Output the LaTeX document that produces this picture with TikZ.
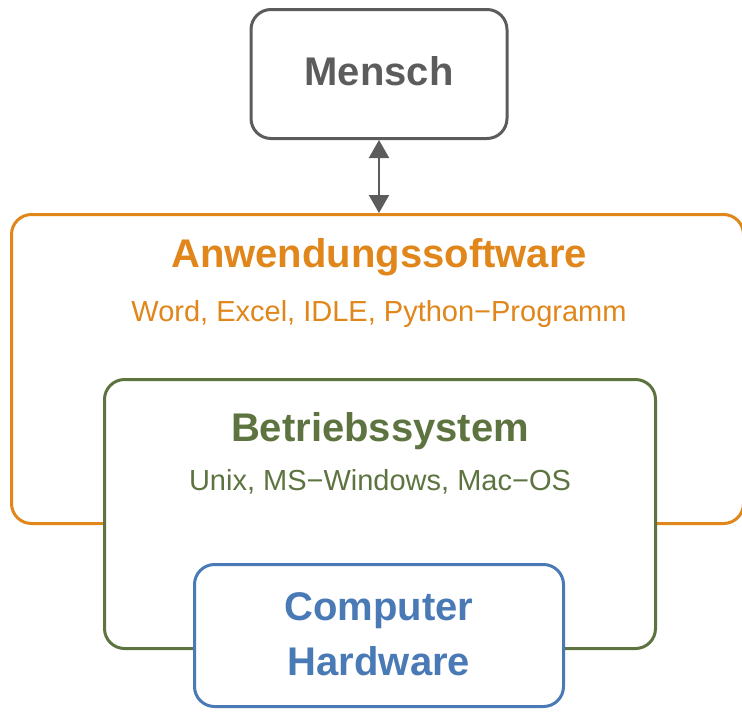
\documentclass[tikz,border=0pt]{standalone}
\usepackage{fontspec}
\setmainfont{Liberation Sans}
\usetikzlibrary{positioning,arrows.meta}
\definecolor{layergray}{HTML}{5C5C5C}
\definecolor{layerorange}{HTML}{E0861A}
\definecolor{layergreen}{HTML}{5E7440}
\definecolor{layerblue}{HTML}{4A7AB6}

\begin{document}
\begin{tikzpicture}[
  x=1pt, y=-1pt,
  layer/.style={draw, fill=white, rounded corners=20pt, line width=3pt},
  title/.style={font=\fontsize{40}{45}\selectfont\bfseries, align=center},
  subtitle/.style={font=\fontsize{29}{34}\selectfont},
  link/.style={{Triangle[width=20pt,length=18pt]}-{Triangle[width=20pt,length=18pt]}, line width=2pt, draw=layergray, fill=layergray}
]
  \useasboundingbox (0,0) rectangle (742,713);
  \node[layer, draw=layerorange, minimum width=732pt, minimum height=309pt] (appbox) at (377.5,369) {};
  \node[layer, draw=layergreen, minimum width=551pt, minimum height=269pt] (osbox) at (380,514) {};
  \node[layer, draw=layerblue, minimum width=369pt, minimum height=142pt] (hwbox) at (379,635.5) {};
  \node[layer, draw=layergray, minimum width=256pt, minimum height=129pt] (humanbox) at (379,74) {};
  \node[title, text=layergray] (humantitle) at (379,71) {Mensch};
  \node[title, text=layerorange] (apptitle) at (379,257) {Anwendungssoftware};
  \node[subtitle, text=layerorange, below=18pt of apptitle] (appsub) {Word, Excel, IDLE, Python−Programm};
  \node[title, text=layergreen] (ostitle) at (380,431) {Betriebssystem};
  \node[subtitle, text=layergreen, below=13pt of ostitle] (ossub) {Unix, MS−Windows, Mac−OS};
  \node[title, text=layerblue, inner sep=0pt] (hwtitle) at (379,634) {Computer\\[10pt]Hardware};
  \draw[link] (humanbox.south) -- (humanbox.south |- appbox.north);
\end{tikzpicture}
\end{document}
